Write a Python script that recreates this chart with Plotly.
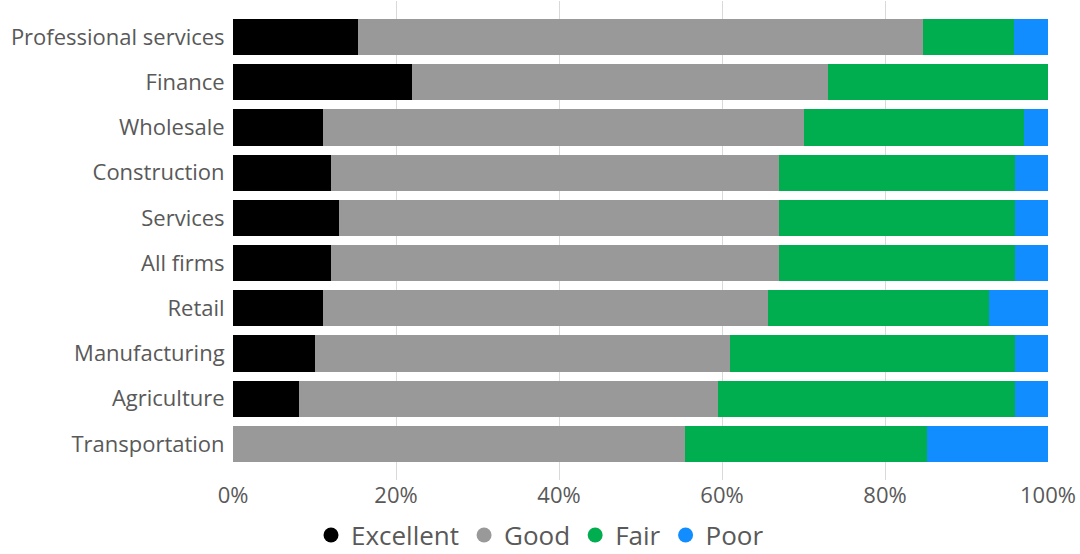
import plotly.graph_objects as go

categories = ["Professional services", "Finance", "Wholesale", "Construction", "Services",
              "All firms", "Retail", "Manufacturing", "Agriculture", "Transportation"]
excellent = [15.3, 22.0, 11.0, 12.0, 13.0, 12.0, 11.0, 10.0, 8.1, 0.0]
good      = [69.4, 51.0, 59.0, 55.0, 54.0, 55.0, 54.7, 51.0, 51.4, 55.5]
fair      = [11.1, 27.0, 27.0, 29.0, 29.0, 29.0, 27.1, 35.0, 36.5, 29.7]
poor      = [4.2, 0.0, 3.0, 4.0, 4.0, 4.0, 7.2, 4.0, 4.0, 14.8]

series_names = ["Excellent", "Good", "Fair", "Poor"]
series_values = [excellent, good, fair, poor]
colors = ["#000000", "#999999", "#00AD4F", "#118DFF"]

FONT = "Open Sans, Noto Sans, sans-serif"
TXT = "#595959"

fig = go.Figure()
for name, vals, col in zip(series_names, series_values, colors):
    fig.add_trace(go.Bar(
        y=categories, x=[v / 100 for v in vals], name=name, orientation="h",
        marker=dict(color=col, line=dict(width=0)), width=0.8,
        legendgroup=name, showlegend=False,
        hovertemplate="%{y}<br>" + name + ": %{x:.1%}<extra></extra>",
    ))
    fig.add_trace(go.Scatter(
        x=[None], y=[None], mode="markers", name=name, legendgroup=name,
        marker=dict(symbol="circle", size=15, color=col), showlegend=True,
    ))

fig.update_layout(
    barmode="stack",
    width=1080, height=554,
    margin=dict(l=233, r=32, t=1, b=74),
    paper_bgcolor="white", plot_bgcolor="white",
    font=dict(family=FONT, size=22, color=TXT),
    xaxis=dict(
        range=[0, 1], tickformat=".0%", dtick=0.2,
        showgrid=True, gridcolor="#D9D9D9", gridwidth=1,
        zeroline=False, showline=False,
        tickfont=dict(size=22, color=TXT),
        ticks="", ticklen=0,
    ),
    yaxis=dict(
        type="category", categoryorder="array", categoryarray=categories,
        range=[9.8, -0.8],
        showgrid=False, zeroline=False, showline=False,
        tickfont=dict(size=22, color=TXT),
        ticks="outside", ticklen=3, tickcolor="rgba(0,0,0,0)",
    ),
    legend=dict(
        orientation="h", xref="container", yref="container",
        x=0.5, xanchor="center", y=0.034, yanchor="middle",
        font=dict(size=26, color=TXT), itemwidth=30,
        traceorder="normal", bgcolor="rgba(0,0,0,0)",
        tracegroupgap=0,
    ),
)

fig.write_html(
    "out.html",
    config={"displayModeBar": False},
    post_script="document.body.style.margin='0';document.body.style.overflow='hidden';",
)
